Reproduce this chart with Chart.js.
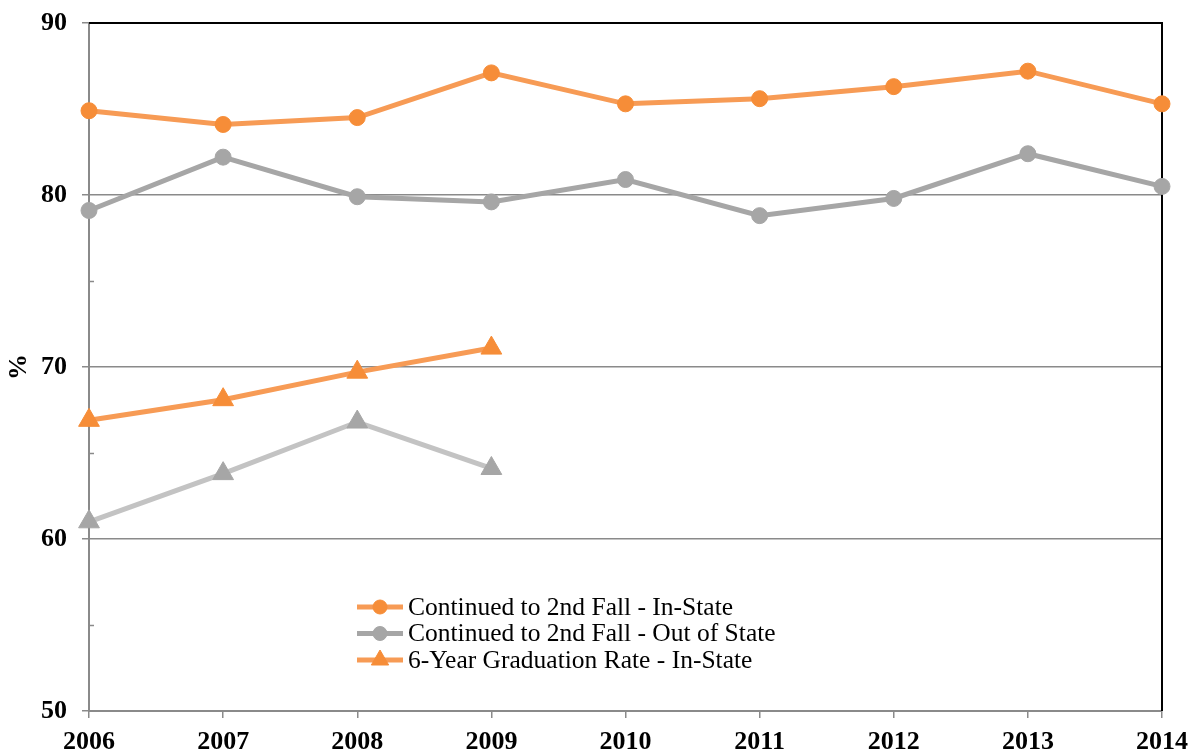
<!DOCTYPE html>
<html><head><meta charset="utf-8">
<script src="https://cdn.jsdelivr.net/npm/chart.js@4.4.0/dist/chart.umd.min.js"></script>
<style>html,body{margin:0;padding:0;background:#fff}#wrap{width:1194px;height:755px;position:relative}</style>
</head><body><div id="wrap"><canvas id="c" width="1194" height="755"></canvas></div>
<script>
const years = ['2006','2007','2008','2009','2010','2011','2012','2013','2014'];
const contInState = [84.9, 84.1, 84.5, 87.1, 85.3, 85.6, 86.3, 87.2, 85.3];
const contOutState = [79.1, 82.2, 79.9, 79.6, 80.9, 78.8, 79.8, 82.4, 80.5];
const gradInState = [66.9, 68.1, 69.7, 71.1, null, null, null, null, null];
const gradOutState = [61.0, 63.8, 66.8, 64.1, null, null, null, null, null];
const seriesLabels = ['Continued to 2nd Fall - In-State','Continued to 2nd Fall - Out of State','6-Year Graduation Rate - In-State','6-Year Graduation Rate - Out of State'];
const yMin = 50, yMax = 90, yStep = 10, yMinorStep = 5;

const ORANGE_LINE = '#F79B55', ORANGE_PT = '#F68D38';
const GRAY_LINE = '#A6A6A6', GRAY_PT = '#A6A6A6', LGRAY_LINE = '#C3C3C3';
const AXIS = '#8A8A8A';
const FONT = '"Liberation Serif", "Times New Roman", serif';

const framePlugin = {
  id: 'frame',
  beforeDatasetsDraw(chart) {
    const {ctx, chartArea: a, scales: {y}} = chart;
    ctx.save();
    ctx.strokeStyle = '#000'; ctx.lineWidth = 2;
    ctx.beginPath();
    ctx.moveTo(a.left, a.top); ctx.lineTo(a.right, a.top); ctx.lineTo(a.right, a.bottom);
    ctx.stroke();
    ctx.strokeStyle = AXIS; ctx.lineWidth = 1.5;
    for (let v = yMin + yMinorStep; v < yMax; v += yStep) {
      const py = Math.round(y.getPixelForValue(v)) + 0.5;
      ctx.beginPath(); ctx.moveTo(a.left, py); ctx.lineTo(a.left + 5, py); ctx.stroke();
    }
    ctx.restore();
  }
};

const legendPlugin = {
  id: 'innerLegend',
  afterDatasetsDraw(chart) {
    const {ctx} = chart;
    const x0 = 357, y0 = 607, rowH = 26.5;
    ctx.save();
    for (let i = 0; i < 3; i++) {
      const ds = chart.data.datasets[i];
      const yy = y0 + i * rowH;
      ctx.strokeStyle = ds.borderColor; ctx.lineWidth = 5;
      ctx.beginPath(); ctx.moveTo(x0, yy); ctx.lineTo(x0 + 46, yy); ctx.stroke();
      ctx.fillStyle = ds.pointBackgroundColor; ctx.strokeStyle = ds.pointBackgroundColor; ctx.lineWidth = 1;
      Chart.helpers.drawPoint(ctx, {pointStyle: ds.pointStyle, radius: ds.pointStyle === 'triangle' ? 10 : 7, rotation: 0, borderWidth: 1}, x0 + 23, yy);
      ctx.fillStyle = '#000';
      ctx.font = '25.5px ' + FONT;
      ctx.textBaseline = 'middle';
      ctx.fillText(ds.label, x0 + 51, yy + 1);
    }
    ctx.restore();
  }
};

function ds(label, data, line, pt, style) {
  return {label, data, borderColor: line, backgroundColor: pt, pointBackgroundColor: pt, pointBorderColor: pt,
    pointStyle: style, pointRadius: style === 'triangle' ? 12 : 8, pointBorderWidth: 1, borderWidth: 5,
    tension: 0, spanGaps: false, clip: false};
}

new Chart(document.getElementById('c'), {
  type: 'line',
  data: {
    labels: years,
    datasets: [
      ds(seriesLabels[0], contInState, ORANGE_LINE, ORANGE_PT, 'circle'),
      ds(seriesLabels[1], contOutState, GRAY_LINE, GRAY_PT, 'circle'),
      ds(seriesLabels[2], gradInState, ORANGE_LINE, ORANGE_PT, 'triangle'),
      ds(seriesLabels[3], gradOutState, LGRAY_LINE, GRAY_PT, 'triangle')
    ]
  },
  options: {
    responsive: false, animation: false,
    layout: {padding: {top: 23, right: 32, bottom: 0, left: 0}},
    plugins: {legend: {display: false}, tooltip: {enabled: false}},
    scales: {
      x: {
        offset: false,
        grid: {drawOnChartArea: false, drawTicks: true, tickLength: 7, color: AXIS, lineWidth: 1.5},
        border: {color: AXIS, width: 2},
        ticks: {color: '#000', font: {family: FONT, size: 26, weight: 'bold'}, padding: 9, maxRotation: 0},
        afterFit(s) { s.height = 44; s.paddingLeft = 0; s.paddingRight = 0; }
      },
      y: {
        min: yMin, max: yMax,
        grid: {color: AXIS, lineWidth: 1.5, tickLength: 7},
        border: {color: AXIS, width: 2},
        ticks: {stepSize: yStep, color: '#000', font: {family: FONT, size: 26, weight: 'bold'}, padding: 15},
        title: {display: true, text: '%', color: '#000', font: {family: FONT, size: 26, weight: 'bold'}, padding: {top: 4, bottom: 0}},
        afterFit(s) { s.width = 89; s.paddingTop = 0; s.paddingBottom = 0; }
      }
    }
  },
  plugins: [framePlugin, legendPlugin]
});
</script>
</body></html>
